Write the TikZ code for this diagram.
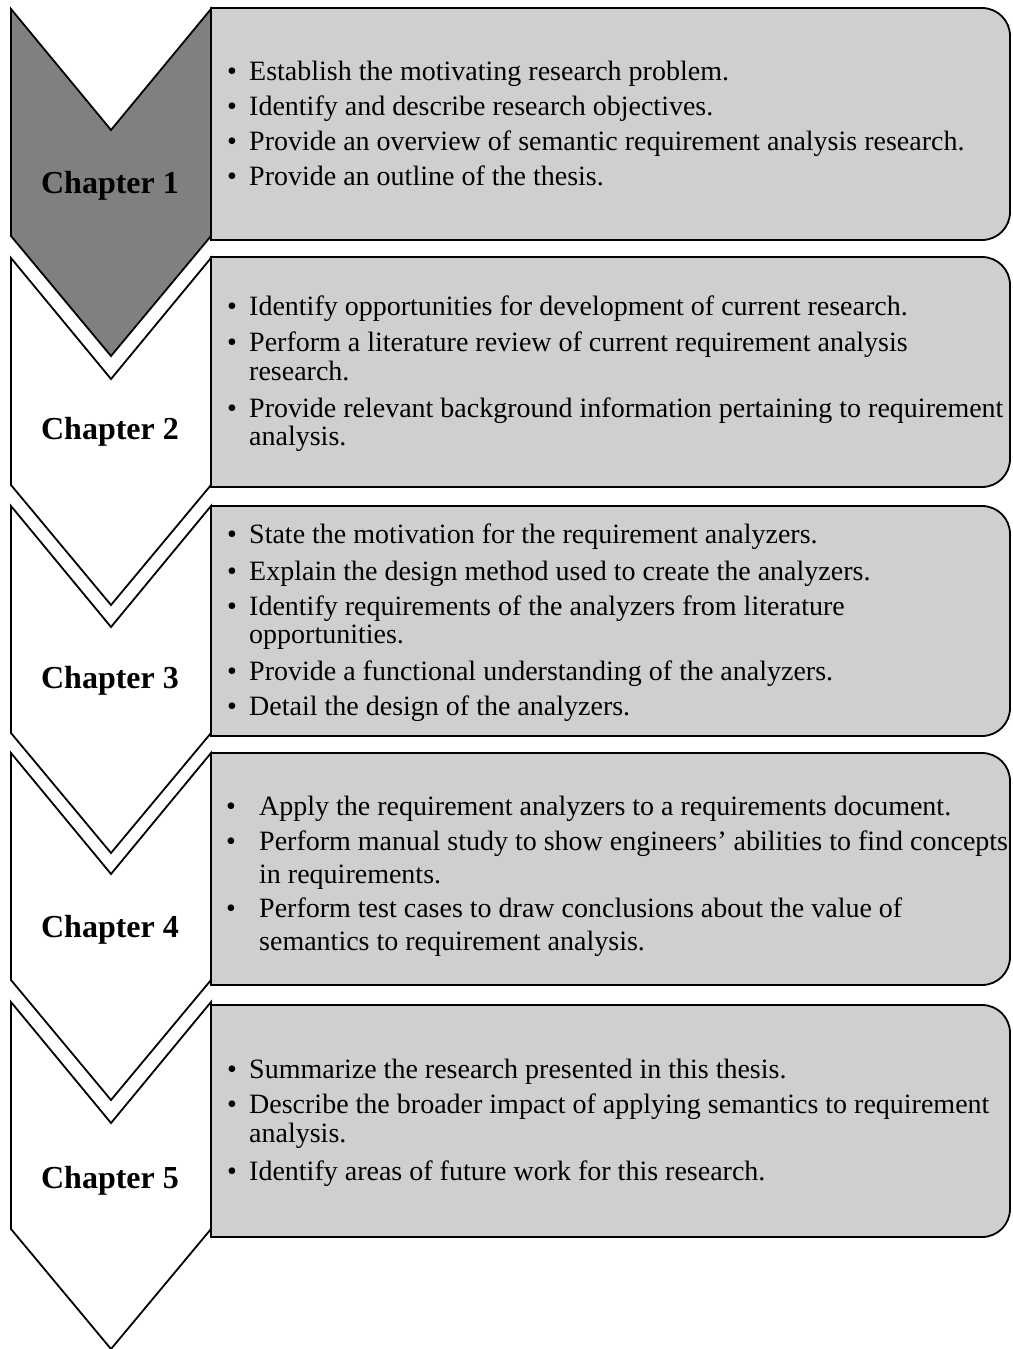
\documentclass[tikz,border=0pt]{standalone}
\usepackage{fontspec}
\setmainfont{Liberation Serif}
\definecolor{boxfill}{RGB}{207,207,207}
\definecolor{leadfill}{RGB}{128,128,128}
\begin{document}
\begin{tikzpicture}[x=1pt,y=-1pt,
  chev/.style={draw=black,line width=1.8pt,line join=miter,fill=white},
  sumbox/.style={draw=black,line width=1.8pt,fill=boxfill},
  chaplabel/.style={font=\fontsize{32}{38}\selectfont\bfseries,inner sep=0pt,anchor=base},
  item/.style={font=\fontsize{28}{34}\selectfont,inner sep=0pt,anchor=base west},
  dot/.style={font=\fontsize{28}{34}\selectfont,inner sep=0pt,anchor=base}]
\useasboundingbox (0,0) rectangle (1012,1349);

% chevron: #1 = top edge, #2 = extra style
\newcommand\chevronshape[2]{%
  \draw[chev,#2] (11,#1) -- (111,{#1+121}) -- (211,#1) -- (211,{#1+227})
    -- (111,{#1+347}) -- (11,{#1+227}) -- cycle;}
% summary box with rounded right corners: #1 = top, #2 = bottom
\newcommand\summarybox[2]{%
  \draw[sumbox] (211,#1) -- (982,#1) .. controls (997.5,#1) and (1010,{#1+12.5}) .. (1010,{#1+28})
    -- (1010,{#2-28}) .. controls (1010,{#2-12.5}) and (997.5,#2) .. (982,#2) -- (211,#2) -- cycle;}

% chevrons
\chevronshape{9}{fill=leadfill}
\chevronshape{258}{}
\chevronshape{506}{}
\chevronshape{753}{}
\chevronshape{1002}{}

% boxes
\summarybox{8}{240}
\summarybox{257}{487}
\summarybox{506}{736}
\summarybox{753}{985}
\summarybox{1005}{1237}

% chapter labels
\node[chaplabel] (ch1) at (110,193) {Chapter 1};
\node[chaplabel] (ch2) at (110,439) {Chapter 2};
\node[chaplabel] (ch3) at (110,688) {Chapter 3};
\node[chaplabel] (ch4) at (110,937) {Chapter 4};
\node[chaplabel] (ch5) at (110,1188) {Chapter 5};

% chapter 1
\node[dot] (d11) at (232,80) {\textbullet};
\node[item] (t11) at (249,80) {Establish the motivating research problem.};
\node[dot] (d12) at (232,115) {\textbullet};
\node[item] (t12) at (249,115) {Identify and describe research objectives.};
\node[dot] (d13) at (232,150) {\textbullet};
\node[item] (t13) at (249,150) {Provide an overview of semantic requirement analysis research.};
\node[dot] (d14) at (232,185) {\textbullet};
\node[item] (t14) at (249,185) {Provide an outline of the thesis.};

% chapter 2
\node[dot] (d21) at (232,315) {\textbullet};
\node[item] (t21) at (249,315) {Identify opportunities for development of current research.};
\node[dot] (d22) at (232,351) {\textbullet};
\node[item] (t22) at (249,351) {Perform a literature review of current requirement analysis};
\node[item] (t22b) at (249,380) {research.};
\node[dot] (d23) at (232,417) {\textbullet};
\node[item] (t23) at (249,417) {Provide relevant background information pertaining to requirement};
\node[item] (t23b) at (249,445) {analysis.};

% chapter 3
\node[dot] (d31) at (232,543) {\textbullet};
\node[item] (t31) at (249,543) {State the motivation for the requirement analyzers.};
\node[dot] (d32) at (232,580) {\textbullet};
\node[item] (t32) at (249,580) {Explain the design method used to create the analyzers.};
\node[dot] (d33) at (232,615) {\textbullet};
\node[item] (t33) at (249,615) {Identify requirements of the analyzers from literature};
\node[item] (t33b) at (249,643) {opportunities.};
\node[dot] (d34) at (232,680) {\textbullet};
\node[item] (t34) at (249,680) {Provide a functional understanding of the analyzers.};
\node[dot] (d35) at (232,715) {\textbullet};
\node[item] (t35) at (249,715) {Detail the design of the analyzers.};

% chapter 4
\node[dot] (d41) at (231,815) {\textbullet};
\node[item] (t41) at (259,815) {Apply the requirement analyzers to a requirements document.};
\node[dot] (d42) at (231,850) {\textbullet};
\node[item] (t42) at (259,850) {Perform manual study to show engineers’ abilities to find concepts};
\node[item] (t42b) at (259,883) {in requirements.};
\node[dot] (d43) at (231,917) {\textbullet};
\node[item] (t43) at (259,917) {Perform test cases to draw conclusions about the value of};
\node[item] (t43b) at (259,950) {semantics to requirement analysis.};

% chapter 5
\node[dot] (d51) at (232,1078) {\textbullet};
\node[item] (t51) at (249,1078) {Summarize the research presented in this thesis.};
\node[dot] (d52) at (232,1113) {\textbullet};
\node[item] (t52) at (249,1113) {Describe the broader impact of applying semantics to requirement};
\node[item] (t52b) at (249,1142) {analysis.};
\node[dot] (d53) at (232,1180) {\textbullet};
\node[item] (t53) at (249,1180) {Identify areas of future work for this research.};
\end{tikzpicture}
\end{document}
